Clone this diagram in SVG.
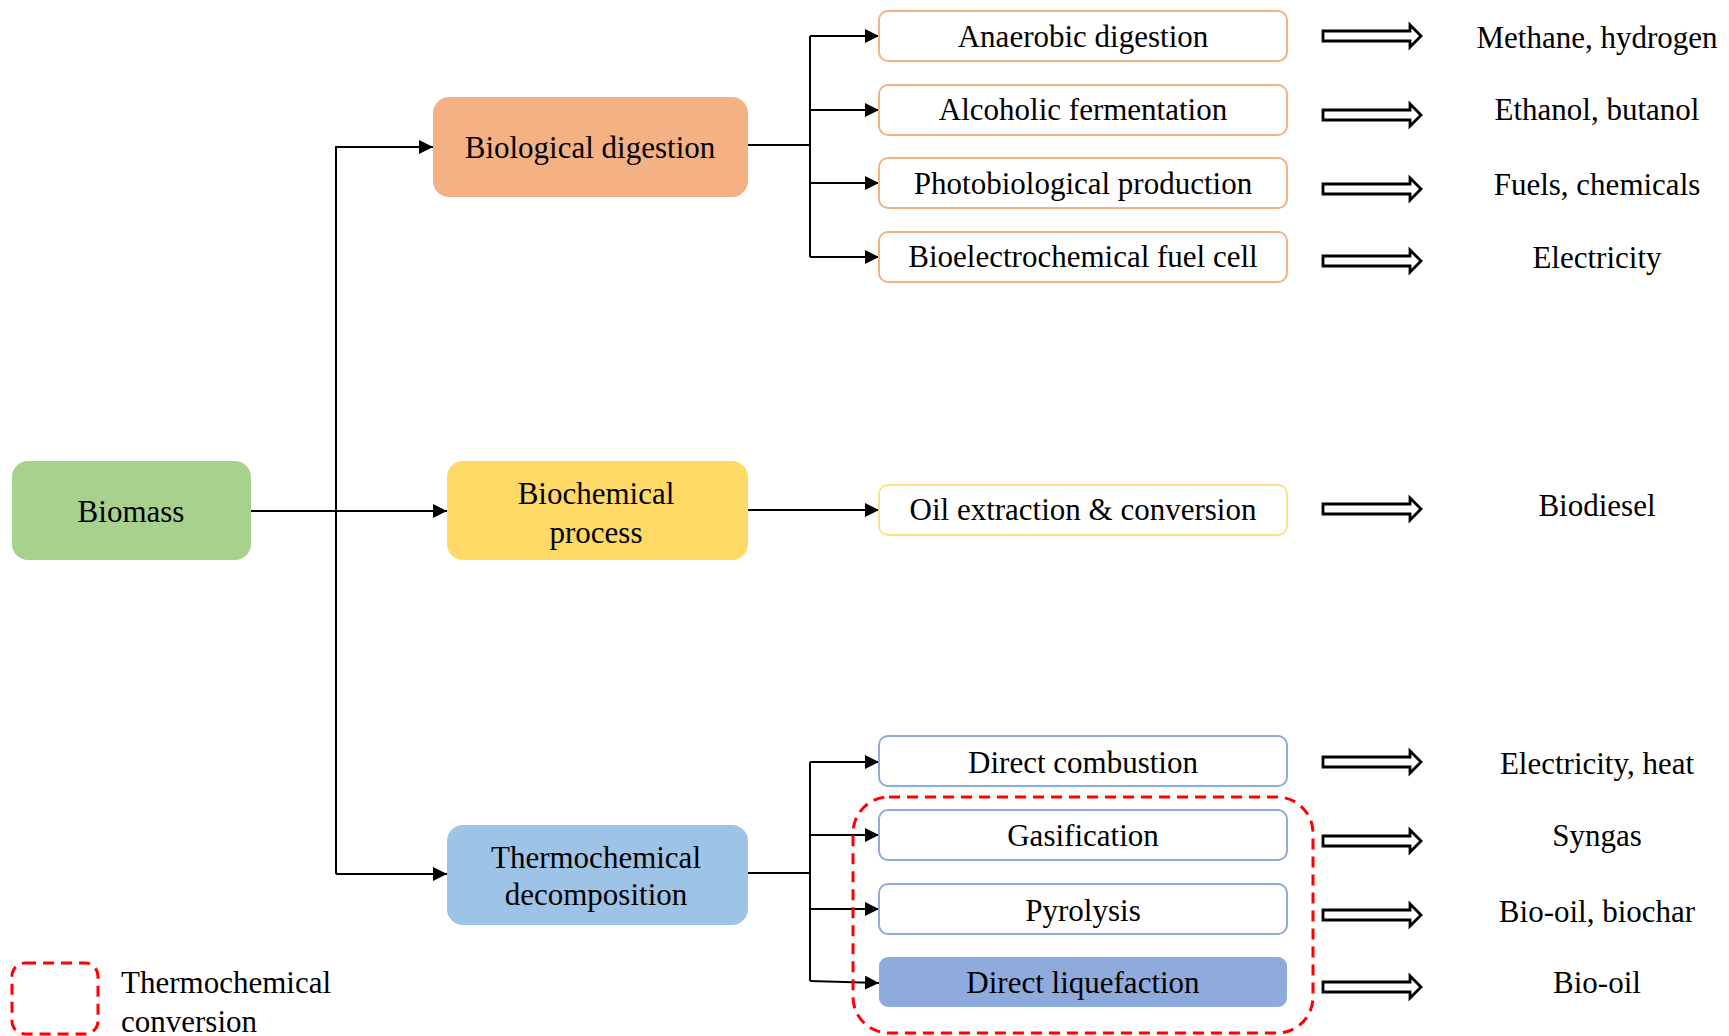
<svg xmlns="http://www.w3.org/2000/svg" width="1729" height="1036" viewBox="0 0 1729 1036">
<defs>
<style>
text{font-family:"Liberation Serif","Times New Roman","DejaVu Serif",serif;font-size:31px;fill:#000;dominant-baseline:central;text-anchor:middle}
.con{fill:none;stroke:#000;stroke-width:2}
.sub-o{fill:#fff;stroke:#F4B183;stroke-width:2}
.sub-y{fill:#fff;stroke:#FFE08A;stroke-width:2}
.sub-b{fill:#fff;stroke:#8FAADC;stroke-width:2}
.dbl{fill:#fff;stroke:#000;stroke-width:2.8;stroke-linejoin:miter}
.dash{fill:none;stroke:#FF0000;stroke-width:3;stroke-dasharray:11 7}
</style>
<marker id="ah" viewBox="0 0 14 14" refX="14" refY="7" markerWidth="14" markerHeight="14" markerUnits="userSpaceOnUse" orient="auto">
<path d="M0,0 L14,7 L0,14 Z" fill="#000"/>
</marker>
<path id="dbl" d="M0,-5 L87,-5 L87,-11 L98,0 L87,11 L87,5 L0,5 Z"/>
</defs>
<rect width="1729" height="1036" fill="#fff"/>

<g id="connectors">
<path class="con" d="M251,511 L447,511" marker-end="url(#ah)"/>
<path class="con" d="M336,874 L336,147 L433,147" marker-end="url(#ah)"/>
<path class="con" d="M336,874 L447,874" marker-end="url(#ah)"/>
<path class="con" d="M748,145 L810,145"/>
<path class="con" d="M810,36 L810,257"/>
<path class="con" d="M810,36 L879,36" marker-end="url(#ah)"/>
<path class="con" d="M810,110 L879,110" marker-end="url(#ah)"/>
<path class="con" d="M810,183 L879,183" marker-end="url(#ah)"/>
<path class="con" d="M810,257 L879,257" marker-end="url(#ah)"/>
<path class="con" d="M748,510 L879,510" marker-end="url(#ah)"/>
<path class="con" d="M748,873 L810,873"/>
<path class="con" d="M810,762 L810,981"/>
<path class="con" d="M810,762 L879,762" marker-end="url(#ah)"/>
<path class="con" d="M810,835 L879,835" marker-end="url(#ah)"/>
<path class="con" d="M810,909 L879,909" marker-end="url(#ah)"/>
<path class="con" d="M810,981 L879,983" marker-end="url(#ah)"/>
</g>

<g id="double-arrows">
<use href="#dbl" class="dbl" x="1323" y="36"/>
<use href="#dbl" class="dbl" x="1323" y="115"/>
<use href="#dbl" class="dbl" x="1323" y="189"/>
<use href="#dbl" class="dbl" x="1323" y="261"/>
<use href="#dbl" class="dbl" x="1323" y="509"/>
<use href="#dbl" class="dbl" x="1323" y="762"/>
<use href="#dbl" class="dbl" x="1323" y="841"/>
<use href="#dbl" class="dbl" x="1323" y="915"/>
<use href="#dbl" class="dbl" x="1323" y="987"/>
</g>

<g id="biomass">
<rect x="12" y="461" width="239" height="99" rx="16" fill="#A9D18E"/>
<text x="131" y="511">Biomass</text>
</g>
<g id="biological-digestion">
<rect x="433" y="97" width="315" height="100" rx="16" fill="#F4B183"/>
<text x="590" y="147">Biological digestion</text>
</g>
<g id="biochemical-process">
<rect x="447" y="461" width="301" height="99" rx="16" fill="#FFD966"/>
<text x="596" y="493">Biochemical</text>
<text x="596" y="532">process</text>
</g>
<g id="thermochemical-decomposition">
<rect x="447" y="825" width="301" height="100" rx="16" fill="#9DC3E6"/>
<text x="596" y="857">Thermochemical</text>
<text x="596" y="894">decomposition</text>
</g>

<g id="anaerobic-digestion">
<rect class="sub-o" x="879" y="11" width="408" height="50" rx="9"/>
<text x="1083" y="36">Anaerobic digestion</text>
</g>
<g id="alcoholic-fermentation">
<rect class="sub-o" x="879" y="85" width="408" height="50" rx="9"/>
<text x="1083" y="109">Alcoholic fermentation</text>
</g>
<g id="photobiological-production">
<rect class="sub-o" x="879" y="158" width="408" height="50" rx="9"/>
<text x="1083" y="183">Photobiological production</text>
</g>
<g id="bioelectrochemical-fuel-cell">
<rect class="sub-o" x="879" y="232" width="408" height="50" rx="9"/>
<text x="1083" y="256">Bioelectrochemical fuel cell</text>
</g>
<g id="oil-extraction">
<rect class="sub-y" x="879" y="485" width="408" height="50" rx="9"/>
<text x="1083" y="509">Oil extraction &amp; conversion</text>
</g>
<g id="direct-combustion">
<rect class="sub-b" x="879" y="736" width="408" height="50" rx="9"/>
<text x="1083" y="762">Direct combustion</text>
</g>
<g id="gasification">
<rect class="sub-b" x="879" y="810" width="408" height="50" rx="9"/>
<text x="1083" y="835">Gasification</text>
</g>
<g id="pyrolysis">
<rect class="sub-b" x="879" y="884" width="408" height="50" rx="9"/>
<text x="1083" y="910">Pyrolysis</text>
</g>
<g id="direct-liquefaction">
<rect x="879" y="957" width="408" height="50" rx="9" fill="#8FAADC"/>
<text x="1083" y="982">Direct liquefaction</text>
</g>

<g id="thermochemical-conversion-group">
<rect class="dash" x="853" y="797" width="460" height="236" rx="36"/>
</g>

<g id="products">
<text x="1597" y="37">Methane, hydrogen</text>
<text x="1597" y="109">Ethanol, butanol</text>
<text x="1597" y="184">Fuels, chemicals</text>
<text x="1597" y="257">Electricity</text>
<text x="1597" y="505">Biodiesel</text>
<text x="1597" y="763">Electricity, heat</text>
<text x="1597" y="835">Syngas</text>
<text x="1597" y="911">Bio-oil, biochar</text>
<text x="1597" y="982">Bio-oil</text>
</g>

<g id="legend">
<rect class="dash" x="12" y="963" width="86" height="71" rx="13"/>
<text x="121" y="982" style="text-anchor:start">Thermochemical</text>
<text x="121" y="1021" style="text-anchor:start">conversion</text>
</g>
</svg>
